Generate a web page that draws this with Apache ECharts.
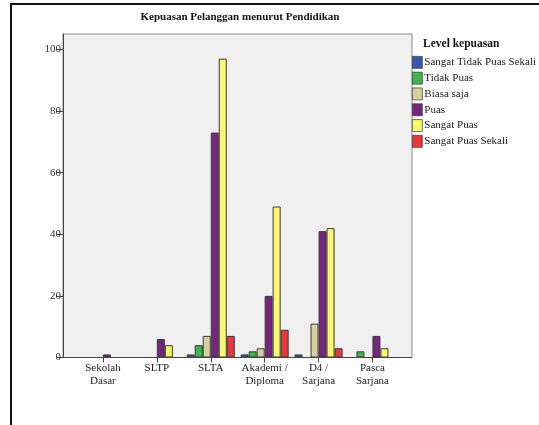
<!DOCTYPE html>
<html>
<head>
<meta charset="utf-8">
<script src="https://cdn.jsdelivr.net/npm/echarts@6/dist/echarts.min.js"></script>
<style>
html,body{margin:0;padding:0;background:#fff;}
#chart{width:539px;height:425px;}
</style>
</head>
<body>
<div id="chart"></div>
<script>
var categories = ['Sekolah\nDasar', 'SLTP', 'SLTA', 'Akademi /\nDiploma', 'D4 /\nSarjana', 'Pasca\nSarjana'];
var seriesNames = ['Sangat Tidak Puas Sekali', 'Tidak Puas', 'Biasa saja', 'Puas', 'Sangat Puas', 'Sangat Puas Sekali'];
var sangatTidakPuasSekali = [null, null, 1, 1, 1, null];
var tidakPuas = [null, null, 4, 2, null, 2];
var biasaSaja = [null, null, 7, 3, 11, null];
var puas = [1, 6, 73, 20, 41, 7];
var sangatPuas = [null, 4, 97, 49, 42, 3];
var sangatPuasSekali = [null, null, 7, 9, 3, null];
var yTicks = [0, 20, 40, 60, 80, 100];

var seriesData = [sangatTidakPuasSekali, tidakPuas, biasaSaja, puas, sangatPuas, sangatPuasSekali];
var colors = ['#3A56A8', '#3DB54A', '#D6D09C', '#74267D', '#FBF870', '#E8383D'];
var font = '"Liberation Serif", "DejaVu Serif", serif';

var chart = echarts.init(document.getElementById('chart'));
var option = {
  backgroundColor: '#fff',
  animation: false,
  title: [{
    text: 'Kepuasan Pelanggan menurut Pendidikan',
    left: 235, top: 7, textAlign: 'center',
    textStyle: {fontFamily: font, fontSize: 11, fontWeight: 'bold', color: '#111'}
  }, {
    text: 'Level kepuasan',
    left: 418, top: 33,
    textStyle: {fontFamily: font, fontSize: 11.5, fontWeight: 'bold', color: '#111'}
  }],
  legend: {
    orient: 'vertical',
    left: 412, top: 56,
    itemWidth: 10, itemHeight: 12, itemGap: 3.1,
    padding: 0,
    icon: 'rect',
    data: seriesNames,
    itemStyle: {borderWidth: 0.7, borderColor: '#3a3a3a'},
    textStyle: {fontFamily: font, fontSize: 11, color: '#222', padding: [0, 0, 0, -3]}
  },
  graphic: [{
    type: 'rect', z: -10, silent: true,
    shape: {x: 11, y: 4, width: 560, height: 440},
    style: {fill: '#fff', stroke: '#111', lineWidth: 2}
  }, {
    type: 'rect', z: -5, silent: true,
    shape: {x: 63, y: 34, width: 349, height: 323.5},
    style: {fill: '#F0F0F0', stroke: '#8A8A8A', lineWidth: 1}
  }, {
    type: 'line', z: 10, silent: true,
    shape: {x1: 63, y1: 357.5, x2: 412, y2: 357.5},
    style: {stroke: '#444', lineWidth: 1}
  }],
  grid: {left: 76, right: 139.6, top: 34, bottom: 67.5, containLabel: false},
  xAxis: {
    type: 'category',
    data: categories,
    axisLine: {show: false},
    axisTick: {show: true, alignWithLabel: true, interval: 0, length: 5, inside: false, lineStyle: {color: '#444'}},
    axisLabel: {interval: 0, fontFamily: font, fontSize: 11, color: '#222', lineHeight: 13, margin: 4}
  },
  yAxis: {
    type: 'value',
    min: 0, max: 105, interval: 20,
    offset: 13,
    splitLine: {show: false},
    axisLine: {show: true, lineStyle: {color: '#444'}},
    axisTick: {show: true, length: 6, lineStyle: {color: '#444'}},
    axisLabel: {
      fontFamily: font, fontSize: 11, color: '#333', margin: 2,
      showMaxLabel: false,
      formatter: function (v) { return yTicks.indexOf(v) >= 0 ? String(v) : ''; }
    }
  },
  series: seriesNames.map(function (n, i) {
    return {
      name: n, type: 'bar',
      data: seriesData[i],
      barWidth: 8, barGap: '0%',
      itemStyle: {color: colors[i], borderColor: '#3a3a3a', borderWidth: 1}
    };
  })
};
chart.setOption(option);
</script>
</body>
</html>
